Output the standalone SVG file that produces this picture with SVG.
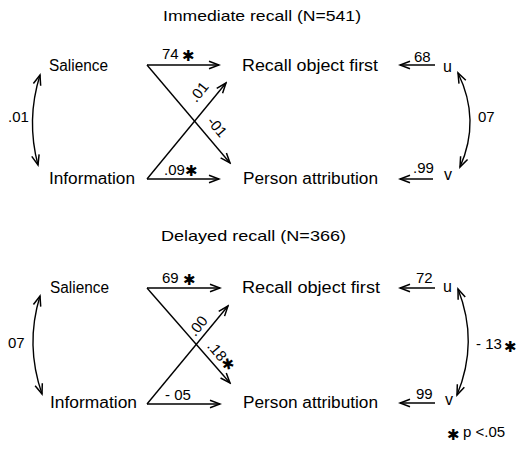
<svg xmlns="http://www.w3.org/2000/svg" width="525" height="462" viewBox="0 0 525 462">
<style>
text{font-family:"Liberation Sans","DejaVu Sans",sans-serif;fill:#000}
.t{font-size:15px}
.n{font-size:16px}
.l{font-size:15px}
.s{font-family:"DejaVu Sans",sans-serif;font-size:15px}
.c path{fill:none;stroke:#000;stroke-width:1.4}
</style>
<defs>
<marker id="ah" viewBox="-11 -5 13 10" refX="0" refY="0" markerWidth="13" markerHeight="10" markerUnits="userSpaceOnUse" orient="auto-start-reverse">
<path d="M-10 -3.8 L0 0 L-10 3.8" fill="none" stroke="#000" stroke-width="1.5"/>
</marker>
</defs>
<rect width="525" height="462" fill="#fff"/>
<text class="t" x="163" y="21" textLength="198" lengthAdjust="spacingAndGlyphs">Immediate recall (N=541)</text>
<g id="sal1"><text class="n" x="49" y="71" textLength="59" lengthAdjust="spacingAndGlyphs">Salience</text></g>
<g id="rec1"><text class="n" x="242" y="71" textLength="136" lengthAdjust="spacingAndGlyphs">Recall object first</text></g>
<g id="inf1"><text class="n" x="49" y="184" textLength="86" lengthAdjust="spacingAndGlyphs">Information</text></g>
<g id="per1"><text class="n" x="243" y="184" textLength="135" lengthAdjust="spacingAndGlyphs">Person attribution</text></g>
<g id="u1"><text class="n" x="443" y="72">u</text></g>
<g id="v1"><text class="n" x="444" y="180">v</text></g>
<g class="c" id="conn1">
<path d="M147 65 H219" marker-end="url(#ah)"/>
<path d="M147 65 L230 163" marker-end="url(#ah)"/>
<path d="M147 179 L226 83" marker-end="url(#ah)"/>
<path d="M147 179 H219" marker-end="url(#ah)"/>
<path d="M435 65 H400" marker-end="url(#ah)"/>
<path d="M433 179 H400" marker-end="url(#ah)"/>
<path d="M40 75 Q26 120 38 165" marker-start="url(#ah)" marker-end="url(#ah)"/>
<path d="M458 73 Q481 120 460 167" marker-start="url(#ah)" marker-end="url(#ah)"/>
</g>
<g id="lab1">
<text class="l" x="162" y="59">74</text><text class="s" x="182" y="61">✱</text>
<text class="l" x="164" y="175">.09</text><text class="s" x="185" y="176">✱</text>
<text class="l" x="414" y="62">68</text>
<text class="l" x="413" y="173">.99</text>
<text class="l" x="8" y="122">.01</text>
<text class="l" x="478" y="122">07</text>
<text class="l" text-anchor="middle" transform="translate(199 92) rotate(-51)" y="5">.01</text>
<text class="l" text-anchor="middle" transform="translate(217 127) rotate(50)" y="5">-01</text>
</g>

<text class="t" x="161" y="241" textLength="185" lengthAdjust="spacingAndGlyphs">Delayed recall (N=366)</text>
<g id="sal2"><text class="n" x="50" y="293" textLength="59" lengthAdjust="spacingAndGlyphs">Salience</text></g>
<g id="rec2"><text class="n" x="242" y="293" textLength="138" lengthAdjust="spacingAndGlyphs">Recall object first</text></g>
<g id="inf2"><text class="n" x="50" y="408" textLength="87" lengthAdjust="spacingAndGlyphs">Information</text></g>
<g id="per2"><text class="n" x="243" y="408" textLength="135" lengthAdjust="spacingAndGlyphs">Person attribution</text></g>
<g id="u2"><text class="n" x="443" y="292">u</text></g>
<g id="v2"><text class="n" x="445" y="405">v</text></g>
<g class="c" id="conn2">
<path d="M147 288 H220" marker-end="url(#ah)"/>
<path d="M147 288 L230 383" marker-end="url(#ah)"/>
<path d="M147 404 L228 306" marker-end="url(#ah)"/>
<path d="M147 404 H220" marker-end="url(#ah)"/>
<path d="M435 288 H400" marker-end="url(#ah)"/>
<path d="M435 403 H400" marker-end="url(#ah)"/>
<path d="M40 296 Q25 345 42 394" marker-start="url(#ah)" marker-end="url(#ah)"/>
<path d="M458 289 Q479 342 457 395" marker-start="url(#ah)" marker-end="url(#ah)"/>
</g>
<g id="lab2">
<text class="l" x="162" y="283">69</text><text class="s" x="183" y="285">✱</text>
<text class="l" x="165" y="400">- 05</text>
<text class="l" x="416" y="283">72</text>
<text class="l" x="416" y="399">99</text>
<text class="l" x="8" y="348">07</text>
<text class="l" x="476" y="349">- 13</text><text class="s" x="504" y="352">✱</text>
<text class="l" text-anchor="middle" transform="translate(198 326) rotate(-51)" y="5">.00</text>
<text class="l" text-anchor="middle" transform="translate(221 356) rotate(50)" y="5">.18<tspan class="s">✱</tspan></text>
</g>
<g id="note"><text class="s" x="447" y="440">✱</text><text class="l" x="463" y="437" font-size="16">p &lt;.05</text></g>
</svg>
